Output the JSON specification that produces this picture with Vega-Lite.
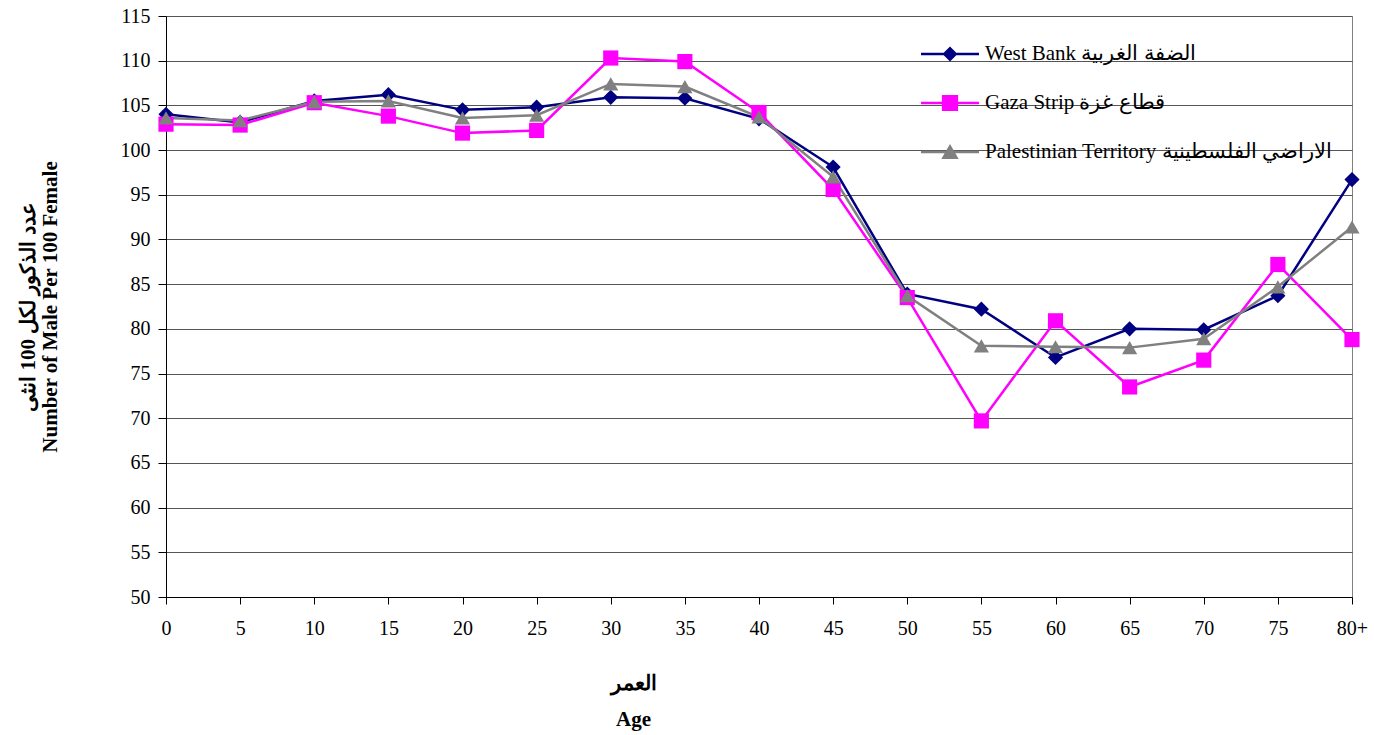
{
  "$schema": "https://vega.github.io/schema/vega-lite/v6.json",
  "autosize": {"type": "none"},
  "padding": {"left": 166, "top": 16, "right": 22, "bottom": 138},
  "width": 1186,
  "height": 581,
  "background": "white",
  "config": {
    "font": "Liberation Serif",
    "view": {"stroke": "#808080", "strokeWidth": 1},
    "axis": {"labelFont": "Liberation Serif", "titleFont": "Liberation Serif", "labelColor": "black", "titleColor": "black", "domainColor": "black", "tickColor": "black"}
  },
  "data": {
    "values": [
      {"age": "0", "region": "West Bank  الضفة الغربية", "ratio": 104.0},
      {"age": "5", "region": "West Bank  الضفة الغربية", "ratio": 103.1},
      {"age": "10", "region": "West Bank  الضفة الغربية", "ratio": 105.5},
      {"age": "15", "region": "West Bank  الضفة الغربية", "ratio": 106.2},
      {"age": "20", "region": "West Bank  الضفة الغربية", "ratio": 104.5},
      {"age": "25", "region": "West Bank  الضفة الغربية", "ratio": 104.8},
      {"age": "30", "region": "West Bank  الضفة الغربية", "ratio": 105.9},
      {"age": "35", "region": "West Bank  الضفة الغربية", "ratio": 105.8},
      {"age": "40", "region": "West Bank  الضفة الغربية", "ratio": 103.5},
      {"age": "45", "region": "West Bank  الضفة الغربية", "ratio": 98.1},
      {"age": "50", "region": "West Bank  الضفة الغربية", "ratio": 83.9},
      {"age": "55", "region": "West Bank  الضفة الغربية", "ratio": 82.2},
      {"age": "60", "region": "West Bank  الضفة الغربية", "ratio": 76.8},
      {"age": "65", "region": "West Bank  الضفة الغربية", "ratio": 80.0},
      {"age": "70", "region": "West Bank  الضفة الغربية", "ratio": 79.9},
      {"age": "75", "region": "West Bank  الضفة الغربية", "ratio": 83.7},
      {"age": "80+", "region": "West Bank  الضفة الغربية", "ratio": 96.7},
      {"age": "0", "region": "Gaza Strip قطاع غزة", "ratio": 102.9},
      {"age": "5", "region": "Gaza Strip قطاع غزة", "ratio": 102.8},
      {"age": "10", "region": "Gaza Strip قطاع غزة", "ratio": 105.3},
      {"age": "15", "region": "Gaza Strip قطاع غزة", "ratio": 103.8},
      {"age": "20", "region": "Gaza Strip قطاع غزة", "ratio": 101.9},
      {"age": "25", "region": "Gaza Strip قطاع غزة", "ratio": 102.2},
      {"age": "30", "region": "Gaza Strip قطاع غزة", "ratio": 110.3},
      {"age": "35", "region": "Gaza Strip قطاع غزة", "ratio": 109.9},
      {"age": "40", "region": "Gaza Strip قطاع غزة", "ratio": 104.2},
      {"age": "45", "region": "Gaza Strip قطاع غزة", "ratio": 95.6},
      {"age": "50", "region": "Gaza Strip قطاع غزة", "ratio": 83.5},
      {"age": "55", "region": "Gaza Strip قطاع غزة", "ratio": 69.7},
      {"age": "60", "region": "Gaza Strip قطاع غزة", "ratio": 80.9},
      {"age": "65", "region": "Gaza Strip قطاع غزة", "ratio": 73.5},
      {"age": "70", "region": "Gaza Strip قطاع غزة", "ratio": 76.5},
      {"age": "75", "region": "Gaza Strip قطاع غزة", "ratio": 87.2},
      {"age": "80+", "region": "Gaza Strip قطاع غزة", "ratio": 78.8},
      {"age": "0", "region": "Palestinian Territory الاراضي الفلسطينية", "ratio": 103.6},
      {"age": "5", "region": "Palestinian Territory الاراضي الفلسطينية", "ratio": 103.3},
      {"age": "10", "region": "Palestinian Territory الاراضي الفلسطينية", "ratio": 105.4},
      {"age": "15", "region": "Palestinian Territory الاراضي الفلسطينية", "ratio": 105.5},
      {"age": "20", "region": "Palestinian Territory الاراضي الفلسطينية", "ratio": 103.6},
      {"age": "25", "region": "Palestinian Territory الاراضي الفلسطينية", "ratio": 103.9},
      {"age": "30", "region": "Palestinian Territory الاراضي الفلسطينية", "ratio": 107.4},
      {"age": "35", "region": "Palestinian Territory الاراضي الفلسطينية", "ratio": 107.1},
      {"age": "40", "region": "Palestinian Territory الاراضي الفلسطينية", "ratio": 103.7},
      {"age": "45", "region": "Palestinian Territory الاراضي الفلسطينية", "ratio": 97.0},
      {"age": "50", "region": "Palestinian Territory الاراضي الفلسطينية", "ratio": 83.7},
      {"age": "55", "region": "Palestinian Territory الاراضي الفلسطينية", "ratio": 78.1},
      {"age": "60", "region": "Palestinian Territory الاراضي الفلسطينية", "ratio": 78.0},
      {"age": "65", "region": "Palestinian Territory الاراضي الفلسطينية", "ratio": 77.9},
      {"age": "70", "region": "Palestinian Territory الاراضي الفلسطينية", "ratio": 78.9},
      {"age": "75", "region": "Palestinian Territory الاراضي الفلسطينية", "ratio": 84.7},
      {"age": "80+", "region": "Palestinian Territory الاراضي الفلسطينية", "ratio": 91.4}
    ]
  },
  "encoding": {
    "x": {
      "field": "age", "type": "ordinal",
      "sort": ["0","5","10","15","20","25","30","35","40","45","50","55","60","65","70","75","80+"],
      "scale": {"type": "point", "padding": 0},
      "axis": {
        "title": ["العمر", "Age"],
        "titleFont": "Liberation Serif", "labelFont": "Liberation Serif",
        "titleFontSize": 21, "titleFontWeight": "bold", "titleLineHeight": 36,
        "titleX": 467, "titleY": 75, "titleBaseline": "top", "titleAnchor": "middle", "titleAlign": "center",
        "labelAngle": 0, "labelFontSize": 20, "labelPadding": 14, "tickSize": 7, "grid": false
      }
    },
    "y": {
      "field": "ratio", "type": "quantitative",
      "scale": {"domain": [50, 115], "nice": false, "zero": false},
      "axis": {
        "title": ["عدد الذكور لكل 100 انثى", "Number of Male Per 100 Female"],
        "titleFont": "Liberation Serif", "labelFont": "Liberation Serif",
        "titleFontSize": 21, "titleFontWeight": "bold", "titleLineHeight": 22, "titlePadding": 60,
        "values": [50,55,60,65,70,75,80,85,90,95,100,105,110,115],
        "labelFontSize": 20, "labelPadding": 8, "tickSize": 8,
        "grid": true, "gridColor": "#555555", "gridWidth": 1
      }
    }
  },
  "layer": [
    {
      "mark": {"type": "line", "strokeWidth": 2.5},
      "encoding": {
        "color": {
          "field": "region", "type": "nominal",
          "scale": {"domain": ["West Bank  الضفة الغربية", "Gaza Strip قطاع غزة", "Palestinian Territory الاراضي الفلسطينية"], "range": ["#000080", "#FF00FF", "#808080"]},
          "legend": null
        }
      }
    },
    {
      "mark": {"type": "point", "filled": true, "opacity": 1, "size": 230},
      "encoding": {
        "color": {
          "field": "region", "type": "nominal",
          "scale": {"domain": ["West Bank  الضفة الغربية", "Gaza Strip قطاع غزة", "Palestinian Territory الاراضي الفلسطينية"], "range": ["#000080", "#FF00FF", "#808080"]},
          "legend": null
        },
        "shape": {
          "field": "region", "type": "nominal",
          "scale": {"domain": ["West Bank  الضفة الغربية", "Gaza Strip قطاع غزة", "Palestinian Territory الاراضي الفلسطينية"], "range": ["diamond", "square", "triangle-up"]},
          "legend": null
        }
      }
    },
    {
      "transform": [{"filter": "datum.age == 'none'"}],
      "mark": {"type": "point", "filled": true, "opacity": 1},
      "encoding": {
        "color": {
          "field": "region", "type": "nominal",
          "scale": {"domain": ["West Bank  الضفة الغربية", "Gaza Strip قطاع غزة", "Palestinian Territory الاراضي الفلسطينية"], "range": ["#000080", "#FF00FF", "#808080"]},
          "legend": {
            "orient": "none", "legendX": 755, "legendY": 9, "title": null, "padding": 0,
            "symbolSize": 3364, "symbolOpacity": 1, "symbolStrokeWidth": 0,
            "labelFont": "Liberation Serif", "labelFontSize": 21, "labelColor": "black", "labelOffset": 6,
            "rowPadding": 10, "labelLimit": 400
          }
        },
        "shape": {
          "field": "region", "type": "nominal",
          "scale": {"domain": ["West Bank  الضفة الغربية", "Gaza Strip قطاع غزة", "Palestinian Territory الاراضي الفلسطينية"], "range": [
            "M-1,-0.045H1V0.045H-1Z M0,-0.26L0.26,0L0,0.26L-0.26,0Z",
            "M-1,-0.045H1V0.045H-1Z M-0.28,-0.28H0.28V0.28H-0.28Z",
            "M-1,-0.045H1V0.045H-1Z M0,-0.28L0.3,0.24H-0.3Z"
          ]},
          "legend": {
            "orient": "none", "legendX": 755, "legendY": 9, "title": null, "padding": 0,
            "symbolSize": 3364, "symbolOpacity": 1, "symbolStrokeWidth": 0,
            "labelFont": "Liberation Serif", "labelFontSize": 21, "labelColor": "black", "labelOffset": 6,
            "rowPadding": 10, "labelLimit": 400
          }
        }
      }
    }
  ],
  "resolve": {"scale": {"color": "independent", "shape": "independent"}}
}
